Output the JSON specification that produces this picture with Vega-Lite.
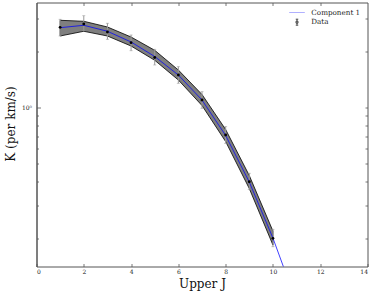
{
  "$schema": "https://vega.github.io/schema/vega-lite/v6.json",
  "width": 331,
  "height": 264,
  "autosize": {"type": "none"},
  "padding": {"left": 36.5, "top": 2.5, "right": 6.5, "bottom": 29.5},
  "background": "white",
  "config": {
    "view": {"stroke": null},
    "axis": {
      "grid": false,
      "domainColor": "#555",
      "tickColor": "#555",
      "labelColor": "#222",
      "labelFont": "DejaVu Serif",
      "labelFontSize": 6,
      "titleFont": "DejaVu Serif",
      "titleFontSize": 12,
      "titleFontWeight": "normal",
      "titleColor": "#111",
      "domainWidth": 1,
      "tickWidth": 0.8
    },
    "legend": {
      "labelFont": "DejaVu Serif",
      "labelFontSize": 7.2,
      "labelColor": "#222"
    }
  },
  "datasets": {
    "model": [
      {"J": 1, "K": 2.665}, {"J": 2, "K": 2.745}, {"J": 3, "K": 2.55},
      {"J": 4, "K": 2.235}, {"J": 5, "K": 1.869}, {"J": 6, "K": 1.488},
      {"J": 7, "K": 1.094}, {"J": 8, "K": 0.707}, {"J": 9, "K": 0.3985},
      {"J": 10, "K": 0.2}, {"J": 11, "K": 0.0903}
    ],
    "band": [
      {"J": 1, "lo": 2.406, "hi": 2.919}, {"J": 2, "lo": 2.55, "hi": 2.884},
      {"J": 3, "lo": 2.406, "hi": 2.688}, {"J": 4, "lo": 2.127, "hi": 2.376},
      {"J": 5, "lo": 1.784, "hi": 2.018}, {"J": 6, "lo": 1.4, "hi": 1.583},
      {"J": 7, "lo": 1.022, "hi": 1.171}, {"J": 8, "lo": 0.656, "hi": 0.761},
      {"J": 9, "lo": 0.368, "hi": 0.4318}, {"J": 10, "lo": 0.1835, "hi": 0.218}
    ],
    "obs": [
      {"J": 1, "K": 2.678, "lo": 2.406, "hi": 2.955},
      {"J": 2, "K": 2.79, "lo": 2.568, "hi": 3.088},
      {"J": 3, "K": 2.527, "lo": 2.31, "hi": 2.814},
      {"J": 4, "K": 2.216, "lo": 2.007, "hi": 2.436},
      {"J": 5, "K": 1.846, "lo": 1.684, "hi": 2.043},
      {"J": 6, "K": 1.488, "lo": 1.344, "hi": 1.649},
      {"J": 7, "K": 1.094, "lo": 0.988, "hi": 1.212},
      {"J": 8, "K": 0.711, "lo": 0.642, "hi": 0.788},
      {"J": 9, "K": 0.4, "lo": 0.364, "hi": 0.444},
      {"J": 10, "K": 0.1993, "lo": 0.1797, "hi": 0.2227}
    ],
    "empty": []
  },
  "resolve": {"axis": {"x": "independent", "y": "independent"}},
  "layer": [
    {
      "data": {"name": "band"},
      "mark": {"type": "area", "fill": "#7f7f7f", "stroke": "#000", "strokeWidth": 0.8, "fillOpacity": 1},
      "encoding": {
        "x": {"field": "J", "type": "quantitative",
              "scale": {"domain": [0, 14], "nice": false, "zero": false},
              "axis": {"orient": "bottom", "values": [0, 2, 4, 6, 8, 10, 12, 14], "tickSize": -3, "labelPadding": 5,
                       "title": "Upper J", "titleY": 21, "titleBaseline": "alphabetic"}},
        "y": {"field": "lo", "type": "quantitative",
              "scale": {"type": "log", "domain": [0.1409, 3.634], "nice": false},
              "axis": {"orient": "left", "values": [1], "tickSize": -4, "labelPadding": 9,
                       "labelExpr": "datum.value == 1 ? '10⁰' : ''",
                       "title": "K (per km/s)", "titleX": -26, "titleY": 121, "titleBaseline": "middle", "titleAngle": -90, "titleAlign": "center"}},
        "y2": {"field": "hi"}
      }
    },
    {
      "data": {"name": "obs"},
      "mark": {"type": "rule", "color": "#9a9a9a", "strokeWidth": 1},
      "encoding": {
        "x": {"field": "J", "type": "quantitative",
              "axis": {"orient": "top", "values": [2, 4, 6, 8, 10, 12], "tickSize": -3, "labels": false, "title": null}},
        "y": {"field": "lo", "type": "quantitative",
              "axis": {"orient": "right", "values": [0.2, 0.3, 0.4, 0.5, 0.6, 0.7, 0.8, 0.9, 1, 2, 3], "tickSize": -2.5, "labels": false, "title": null}},
        "y2": {"field": "hi"}
      }
    },
    {
      "data": {"name": "obs"},
      "mark": {"type": "tick", "orient": "horizontal", "color": "#9a9a9a", "size": 3, "thickness": 0.8},
      "encoding": {
        "x": {"field": "J", "type": "quantitative", "axis": null},
        "y": {"field": "lo", "type": "quantitative",
              "axis": {"orient": "left", "values": [0.2, 0.3, 0.4, 0.5, 0.6, 0.7, 0.8, 0.9, 2, 3], "tickSize": -2, "labels": false, "title": null}}
      }
    },
    {
      "data": {"name": "obs"},
      "mark": {"type": "tick", "orient": "horizontal", "color": "#9a9a9a", "size": 3, "thickness": 0.8},
      "encoding": {
        "x": {"field": "J", "type": "quantitative", "axis": null},
        "y": {"field": "hi", "type": "quantitative", "axis": null}
      }
    },
    {
      "data": {"name": "model"},
      "mark": {"type": "line", "color": "#0000ff", "strokeWidth": 1, "opacity": 0.75, "clip": true},
      "encoding": {
        "x": {"field": "J", "type": "quantitative", "axis": null},
        "y": {"field": "K", "type": "quantitative", "axis": null}
      }
    },
    {
      "data": {"name": "obs"},
      "mark": {"type": "point", "filled": true, "color": "#000", "size": 8, "opacity": 1},
      "encoding": {
        "x": {"field": "J", "type": "quantitative", "axis": null},
        "y": {"field": "K", "type": "quantitative", "axis": null}
      }
    },
    {
      "data": {"name": "empty"},
      "mark": {"type": "point", "filled": false, "strokeWidth": 1},
      "encoding": {
        "shape": {"field": "s", "type": "nominal",
                  "scale": {"domain": ["Component 1", "Data"],
                            "range": ["M-1.56,0H1.56", "M0,-0.6V0.6M-0.25,-0.6H0.25M-0.25,0.6H0.25M-0.2,-0.2H0.2V0.2H-0.2Z"]},
                  "legend": {"title": null, "orient": "none", "legendX": 255, "legendY": 4.5, "padding": 0,
                             "symbolSize": 100, "labelOffset": 8.8, "rowPadding": 0.7, "symbolStrokeWidth": 1}},
        "color": {"field": "s", "type": "nominal",
                  "scale": {"domain": ["Component 1", "Data"], "range": ["#8f8fff", "#000000"]},
                  "legend": {"title": null, "orient": "none", "legendX": 255, "legendY": 4.5, "padding": 0,
                             "symbolSize": 100, "labelOffset": 8.8, "rowPadding": 0.7, "symbolStrokeWidth": 1}}
      }
    }
  ]
}
